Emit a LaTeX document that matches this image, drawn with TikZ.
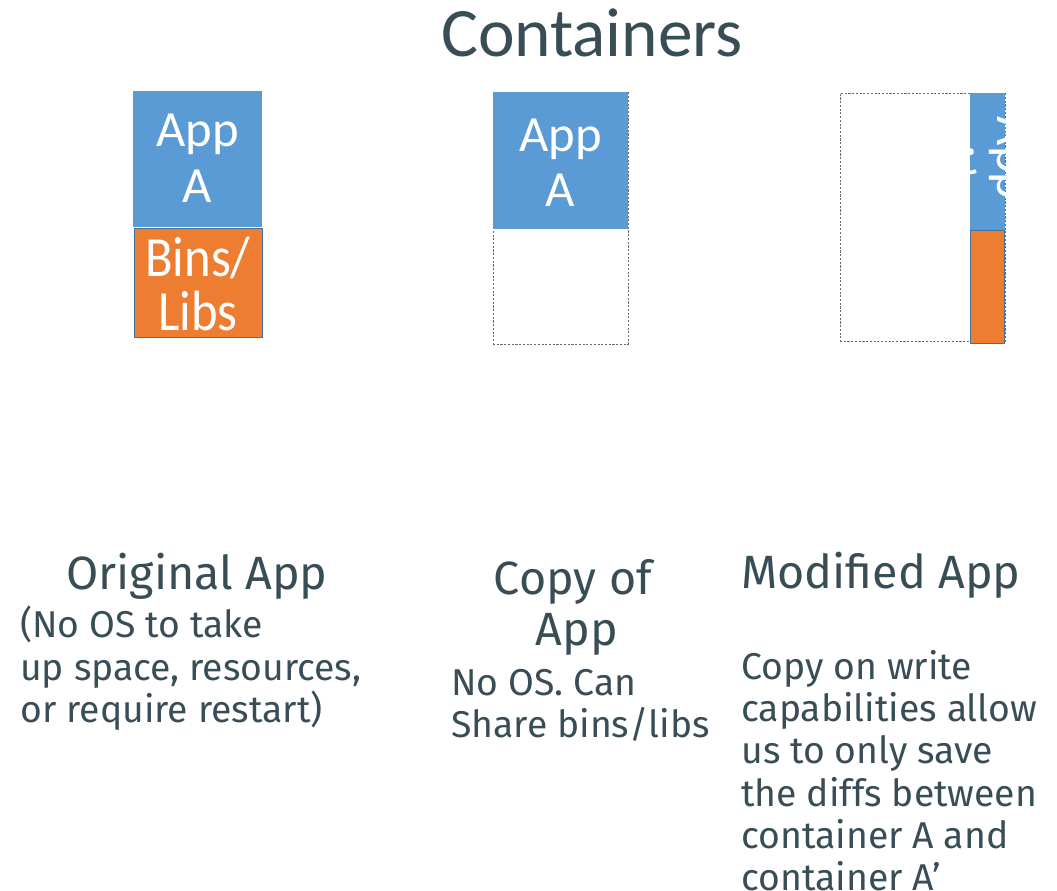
\documentclass[tikz,border=0pt]{standalone}
\usepackage{fontspec}
\setmainfont{Fira Sans}
\newfontfamily\boxfont{Carlito}
\definecolor{ink}{RGB}{57,77,86}
\definecolor{appblue}{RGB}{91,155,213}
\definecolor{liborange}{RGB}{237,125,49}
\definecolor{libedge}{RGB}{65,113,156}
\definecolor{dashgray}{RGB}{105,105,105}
\tikzset{
  block/.style={anchor=north west, inner sep=0pt, outer sep=0pt},
  appfill/.style={block, fill=appblue},
  libfill/.style={block, fill=liborange, draw=libedge, line width=0.6pt},
  slot/.style={block, draw=dashgray, dash pattern=on 1.6pt off 1.2pt, line width=0.6pt},
  boxtext/.style={text=white, font=\boxfont\fontsize{38}{42}\selectfont, inner sep=0pt, anchor=base},
  head/.style={text=ink, font=\fontsize{35}{41}\selectfont, inner sep=0pt},
  body/.style={text=ink, font=\fontsize{28}{32}\selectfont, inner sep=0pt, anchor=base west},
}
\begin{document}
\begin{tikzpicture}[x=0.75pt, y=-0.75pt]
\useasboundingbox (0,0) rectangle (1057,891);

% title
\node[text=ink, font=\boxfont\fontsize{52}{60}\selectfont, inner sep=0pt, anchor=base] (title) at (592,57) {Containers};

% original app: application layer on top of its bins/libs
\node[appfill, minimum width={129*0.75pt}, minimum height={136*0.75pt}] (origApp) at (133,91) {};
\node[libfill, minimum width={128*0.75pt}, minimum height={109*0.75pt}] (origLibs) at (134,228) {};
\node[boxtext] (origAppT1) at (197.5,147) {App};
\node[boxtext] (origAppT2) at (197.5,203) {A};
\node[boxtext] (origLibsT1) at (198,277) {\scalebox{1}[1.12]{Bins/}};
\node[boxtext] (origLibsT2) at (198,331) {\scalebox{1}[1.12]{Libs}};

% copy of app: shares the bins/libs, so the lower slot stays empty
\node[slot, minimum width={135*0.75pt}, minimum height={252*0.75pt}] (copySlot) at (493,92) {};
\node[appfill, minimum width={135*0.75pt}, minimum height={137*0.75pt}] (copyApp) at (493,92) {};
\node[boxtext] (copyAppT1) at (560.5,152) {App};
\node[boxtext] (copyAppT2) at (560.5,207) {A};

% modified app: only the diff strip is stored
\node[slot, minimum width={165*0.75pt}, minimum height={248*0.75pt}] (modSlot) at (840,93) {};
\node[appfill, minimum width={35*0.75pt}, minimum height={137*0.75pt}] (modApp) at (970,93) {};
\node[libfill, minimum width={34*0.75pt}, minimum height={113*0.75pt}] (modLibs) at (970,230) {};
\begin{scope}
  \clip (modApp.north west) rectangle (modApp.south east);
  \node[boxtext, rotate=-90] (modAppT1) at (997,158) {App};
  \node[boxtext, rotate=-90] (modAppT2) at (941,158) {A’};
\end{scope}

% captions
\node[head, anchor=base] (origHead) at (197,589) {Original App};
\node[body] (origL1) at (20,637) {(No OS to take};
\node[body] (origL2) at (20,680) {up space, resources,};
\node[body] (origL3) at (20,722) {or require restart)};

\node[head, anchor=base] (copyHead1) at (573,594) {Copy of};
\node[head, anchor=base] (copyHead2) at (577,645) {App};
\node[body] (copyL1) at (451,695) {No OS. Can};
\node[body] (copyL2) at (451,737) {Share bins/libs};

\node[head, anchor=base west] (modHead) at (741,588) {Modified App};
\node[body] (modL1) at (741,679) {Copy on write};
\node[body] (modL2) at (741,721) {capabilities allow};
\node[body] (modL3) at (741,763) {us to only save};
\node[body] (modL4) at (741,806) {the diffs between};
\node[body] (modL5) at (741,848) {container A and};
\node[body] (modL6) at (741,890) {container A’};
\end{tikzpicture}
\end{document}
